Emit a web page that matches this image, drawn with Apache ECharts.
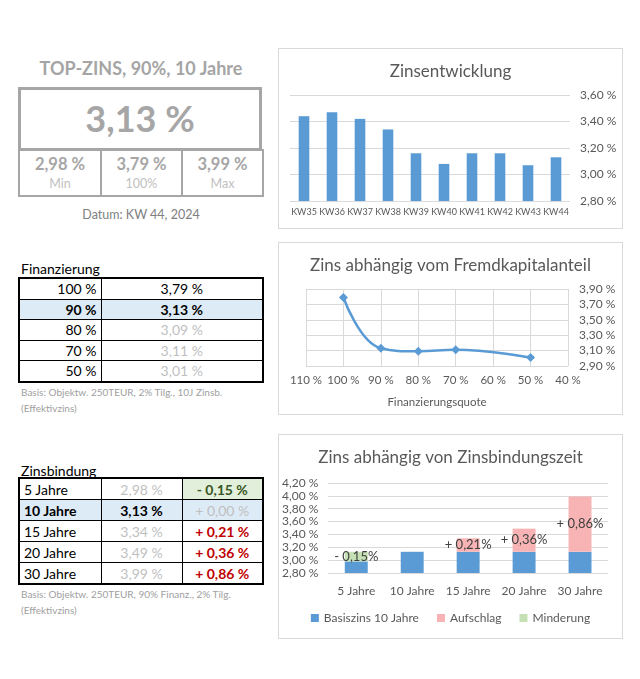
<!DOCTYPE html>
<html><head><meta charset="utf-8">
<script src="https://cdn.jsdelivr.net/npm/echarts@6/dist/echarts.min.js"></script>
<style>
html,body{margin:0;padding:0;background:#fff;width:640px;height:679px;overflow:hidden;font-family:Lato,"Open Sans",sans-serif;}
.abs{position:absolute;}
.box{position:absolute;border:1px solid #d9d9d9;box-sizing:border-box;}
table{border-collapse:collapse;table-layout:fixed;}
td{padding:0 4px;white-space:nowrap;overflow:hidden;}
</style></head>
<body>
<!-- left summary -->
<div class="abs" id="topTitle" style="left:0;top:57px;width:282px;text-align:center;font-weight:bold;font-size:18px;color:#a5a5a5;"></div>
<div class="abs" id="bigBox" style="left:18px;top:87px;width:244px;height:64px;border:3px solid #a6a6a6;box-sizing:border-box;text-align:center;line-height:57px;font-weight:bold;font-size:36px;color:#a6a6a6;"></div>
<table class="abs" id="mmTable" style="left:18px;top:149px;width:244px;border:2px solid #a6a6a6;"></table>
<div class="abs" id="datum" style="left:0;top:207px;width:282px;text-align:center;font-size:12.5px;color:#808080;"></div>

<div class="abs" style="left:21px;top:260px;font-size:14px;color:#000;">Finanzierung</div>
<table class="abs" id="finTable" style="left:18px;top:277px;width:244px;border:2px solid #000;"></table>
<div class="abs" id="finNote" style="left:21px;top:384px;font-size:10px;line-height:16px;color:#a0a0a0;"></div>

<div class="abs" style="left:21px;top:462px;font-size:14px;color:#000;">Zinsbindung</div>
<table class="abs" id="zbTable" style="left:18px;top:477px;width:244px;border:2px solid #000;"></table>
<div class="abs" id="zbNote" style="left:21px;top:586px;font-size:10px;line-height:16px;color:#a0a0a0;"></div>

<div class="box" style="left:278px;top:48px;width:345px;height:181px;"><div id="c1" style="width:343px;height:179px;"></div></div>
<div class="box" style="left:278px;top:242px;width:345px;height:173px;"><div id="c2" style="width:343px;height:171px;"></div></div>
<div class="box" style="left:278px;top:434px;width:345px;height:205px;"><div id="c3" style="width:343px;height:203px;"></div></div>

<script>
// ---------- data ----------
var topTitle = 'TOP-ZINS, 90%, 10 Jahre';
var topRate = 3.13;
var mmValues = [2.98, 3.79, 3.99];
var mmLabels = ['Min', '100%', 'Max'];
var datumText = 'Datum: KW 44, 2024';

var weekCats = ['KW35','KW36','KW37','KW38','KW39','KW40','KW41','KW42','KW43','KW44'];
var weekRates = [3.44, 3.47, 3.42, 3.34, 3.16, 3.08, 3.16, 3.16, 3.07, 3.13];

var finQuote = [100, 90, 80, 70, 50];
var finRates = [3.79, 3.13, 3.09, 3.11, 3.01];
var finNote = ['Basis: Objektw. 250TEUR, 2% Tilg., 10J Zinsb.', '(Effektivzins)'];

var zbCats = ['5 Jahre', '10 Jahre', '15 Jahre', '20 Jahre', '30 Jahre'];
var zbRates = [2.98, 3.13, 3.34, 3.49, 3.99];
var zbDelta = [-0.15, 0.00, 0.21, 0.36, 0.86];
var zbBase = 3.13;
var zbNote = ['Basis: Objektw. 250TEUR, 90% Finanz., 2% Tilg.', '(Effektivzins)'];

var legendNames = ['Basiszins 10 Jahre', 'Aufschlag', 'Minderung'];

// ---------- helpers ----------
function pct(v){ return v.toFixed(2).replace('.', ',') + ' %'; }
function pctNoSpace(v){ return v.toFixed(2).replace('.', ',') + '%'; }
var FONT = 'Lato';
var GRAY = '#bfbfbf';

// ---------- left side ----------
document.getElementById('topTitle').textContent = topTitle;
document.getElementById('bigBox').textContent = pct(topRate);
document.getElementById('datum').textContent = datumText;
(function(){
  var t = document.getElementById('mmTable');
  var cg = document.createElement('colgroup');
  [82,81,81].forEach(function(w){var c=document.createElement('col');c.style.width=w+'px';cg.appendChild(c);});
  t.appendChild(cg);
  var tr = document.createElement('tr');
  mmValues.forEach(function(v,i){
    var td = document.createElement('td');
    td.style.cssText = 'border:2px solid #a6a6a6;text-align:center;height:44px;padding:0;';
    td.innerHTML = '<div style="font-weight:bold;font-size:16.5px;color:#a6a6a6;line-height:22px;margin-top:-1px;">'+pct(v)+'</div>'+
                   '<div style="font-size:12.5px;color:#bfbfbf;line-height:18px;">'+mmLabels[i]+'</div>';
    tr.appendChild(td);
  });
  t.appendChild(tr);
})();

(function(){
  var t = document.getElementById('finTable');
  var cg = document.createElement('colgroup');
  [82,162].forEach(function(w){var c=document.createElement('col');c.style.width=w+'px';cg.appendChild(c);});
  t.appendChild(cg);
  finQuote.forEach(function(q,i){
    var tr = document.createElement('tr');
    var hl = (i===1);
    tr.style.background = hl ? '#ddebf7' : '#fff';
    var c1 = document.createElement('td');
    c1.style.cssText = 'border:1px solid #000;text-align:right;height:19.5px;font-size:14px;color:#000;' + (hl?'font-weight:bold;':'');
    c1.textContent = q + ' %';
    var c2 = document.createElement('td');
    c2.style.cssText = 'border:1px solid #000;text-align:center;font-size:14px;' + (hl?'font-weight:bold;':'') + 'color:' + (i<2?'#000':GRAY) + ';';
    c2.textContent = pct(finRates[i]);
    tr.appendChild(c1); tr.appendChild(c2); t.appendChild(tr);
  });
  document.getElementById('finNote').innerHTML = finNote.join('<br>');
})();

(function(){
  var t = document.getElementById('zbTable');
  var cg = document.createElement('colgroup');
  [82,81,81].forEach(function(w){var c=document.createElement('col');c.style.width=w+'px';cg.appendChild(c);});
  t.appendChild(cg);
  zbCats.forEach(function(cat,i){
    var tr = document.createElement('tr');
    var hl = (i===1);
    tr.style.background = hl ? '#ddebf7' : '#fff';
    var c1 = document.createElement('td');
    c1.style.cssText = 'border:1px solid #000;text-align:left;height:20px;font-size:14px;color:#000;' + (hl?'font-weight:bold;':'');
    c1.textContent = cat;
    var c2 = document.createElement('td');
    c2.style.cssText = 'border:1px solid #000;text-align:center;font-size:14px;' + (hl?'font-weight:bold;color:#000;':'color:'+GRAY+';');
    c2.textContent = pct(zbRates[i]);
    var c3 = document.createElement('td');
    var d = zbDelta[i];
    var txt = (d < 0 ? '- ' : '+ ') + pct(Math.abs(d));
    var st = 'border:1px solid #000;text-align:center;font-size:14px;';
    if (d < 0) st += 'background:#e2efda;color:#375623;font-weight:bold;';
    else if (d === 0) st += 'color:' + GRAY + ';';
    else st += 'color:#c00000;font-weight:bold;';
    c3.style.cssText = st;
    c3.textContent = txt;
    tr.appendChild(c1); tr.appendChild(c2); tr.appendChild(c3); t.appendChild(tr);
  });
  document.getElementById('zbNote').innerHTML = zbNote.join('<br>');
})();

// ---------- charts ----------
var titleStyle = {fontSize:17, fontWeight:'normal', color:'#595959', fontFamily:FONT};
var axisLbl = {color:'#595959', fontFamily:FONT, fontSize:12};
var splitL = {show:true, lineStyle:{color:'#d9d9d9', width:1}};

var c1 = echarts.init(document.getElementById('c1'));
c1.setOption({
  animation:false,
  title:{text:'Zinsentwicklung', left:'center', top:9, textStyle:titleStyle},
  grid:{left:11, right:52, top:46, bottom:27},
  xAxis:{type:'category', data:weekCats, axisLine:{show:false}, axisTick:{show:false},
    axisLabel:Object.assign({}, axisLbl, {fontSize:9, interval:0, margin:7})},
  yAxis:{type:'value', position:'right', min:2.8, max:3.6, interval:0.2,
    axisLabel:Object.assign({}, axisLbl, {margin:10, formatter:function(v){return pct(v);}}),
    splitLine:splitL, axisLine:{show:false}, axisTick:{show:false}},
  series:[{type:'bar', data:weekRates, barWidth:'38%', itemStyle:{color:'#5b9bd5'}}]
});

var c2 = echarts.init(document.getElementById('c2'));
c2.setOption({
  animation:false,
  title:{text:'Zins abhängig vom Fremdkapitalanteil', left:'center', top:9, textStyle:titleStyle},
  grid:{left:27, right:54, top:46, bottom:48},
  xAxis:{type:'value', inverse:true, min:40, max:110, interval:10,
    name:'Finanzierungsquote', nameLocation:'middle', nameGap:30,
    nameTextStyle:{color:'#595959', fontFamily:FONT, fontSize:11.5},
    axisLabel:Object.assign({}, axisLbl, {fontSize:11.5, margin:8, formatter:function(v){return v + ' %';}}),
    splitLine:splitL, axisLine:{show:false}, axisTick:{show:false}},
  yAxis:{type:'value', position:'right', min:2.9, max:3.9, interval:0.2,
    axisLabel:Object.assign({}, axisLbl, {margin:11, formatter:function(v){return pct(v);}}),
    splitLine:splitL, axisLine:{show:false}, axisTick:{show:false}},
  series:[{type:'line', data:finQuote.map(function(q,i){return [q, finRates[i]];}),
    smooth:0.45, symbol:'diamond', symbolSize:9,
    lineStyle:{color:'#5b9bd5', width:2.5}, itemStyle:{color:'#5b9bd5'}}]
});

var baseVals = zbRates.map(function(r){ return Math.min(r, zbBase); });
var aufVals = zbDelta.map(function(d){ return d > 0 ? d : null; });
var minVals = zbDelta.map(function(d){ return d < 0 ? -d : null; });
var c3 = echarts.init(document.getElementById('c3'));
c3.setOption({
  animation:false,
  title:{text:'Zins abhängig von Zinsbindungszeit', left:'center', top:9, textStyle:titleStyle},
  grid:{left:49, right:14, top:48, bottom:65},
  legend:{top:172, left:'center', itemWidth:8, itemHeight:8, itemGap:18, icon:'rect',
    textStyle:{color:'#595959', fontFamily:FONT, fontSize:12}, data:legendNames},
  xAxis:{type:'category', data:zbCats, axisLine:{show:false}, axisTick:{show:false},
    axisLabel:Object.assign({}, axisLbl, {margin:12, interval:0})},
  yAxis:{type:'value', min:2.8, max:4.2, interval:0.2,
    axisLabel:Object.assign({}, axisLbl, {margin:10, formatter:function(v){return pct(v);}}),
    splitLine:splitL, axisLine:{show:false}, axisTick:{show:false}},
  series:[
    {name:legendNames[0], type:'bar', stack:'z', data:baseVals, barWidth:'41%', itemStyle:{color:'#5b9bd5'}},
    {name:legendNames[1], type:'bar', stack:'z', data:aufVals, itemStyle:{color:'#f8b4b4'},
      label:{show:true, position:'inside', color:'#404040', fontFamily:FONT, fontSize:13,
        formatter:function(p){return '+ ' + pctNoSpace(p.value);}}},
    {name:legendNames[2], type:'bar', stack:'z', data:minVals, itemStyle:{color:'#c5e0b4'},
      label:{show:true, position:'inside', color:'#404040', fontFamily:FONT, fontSize:13,
        formatter:function(p){return '- ' + pctNoSpace(p.value);}}}
  ]
});
</script>
</body></html>
